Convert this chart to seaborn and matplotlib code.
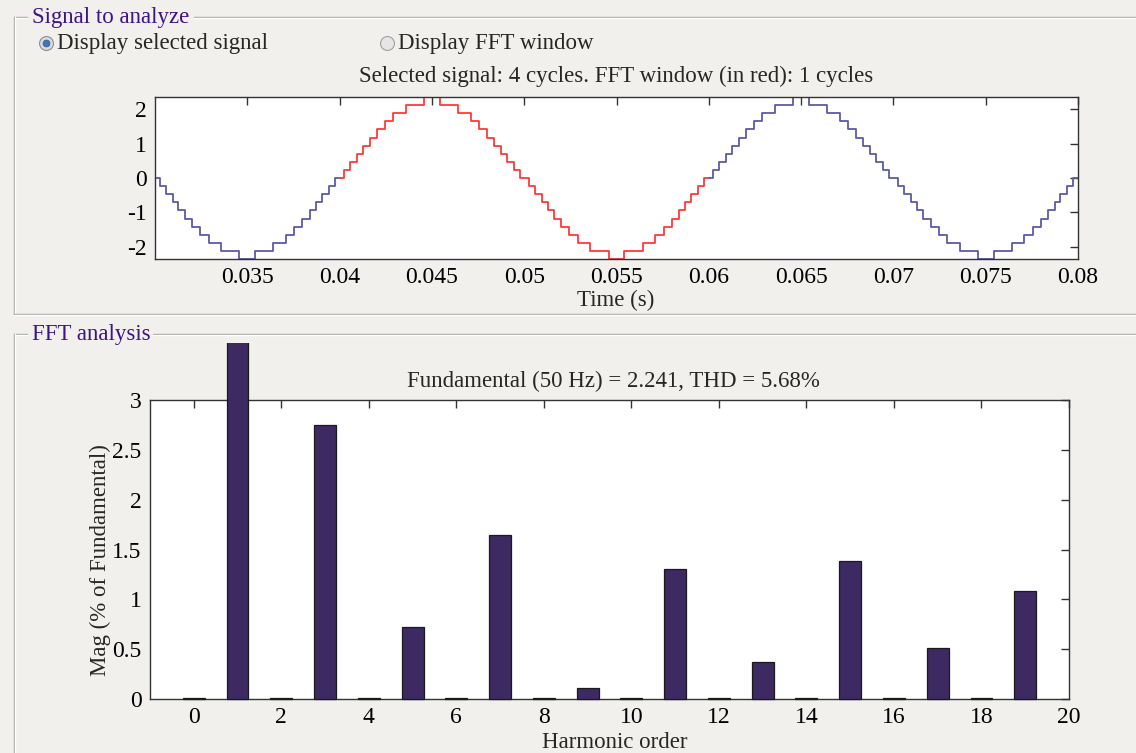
import numpy as np
import pandas as pd
import matplotlib
matplotlib.use("Agg")
import matplotlib.pyplot as plt
import seaborn as sns
from matplotlib.lines import Line2D
from matplotlib.transforms import Bbox, TransformedBbox

# --- signal (staircase) ---
# time in ms where each level starts, and the level index (1 index = quant_step)
step_t_ms = [
    30.00, 30.25, 30.57, 30.95, 31.27, 31.63, 32.02, 32.45, 32.90, 33.59, 34.57,
    35.43, 36.41, 37.10, 37.55, 37.98, 38.37, 38.73, 39.05, 39.43, 39.75,
    40.25, 40.57, 40.95, 41.27, 41.63, 42.02, 42.45, 42.90, 43.59, 44.57,
    45.43, 46.41, 47.10, 47.55, 47.98, 48.37, 48.73, 49.05, 49.43, 49.75,
    50.25, 50.57, 50.95, 51.27, 51.63, 52.02, 52.45, 52.90, 53.59, 54.57,
    55.43, 56.41, 57.10, 57.55, 57.98, 58.37, 58.73, 59.05, 59.43, 59.75,
    60.25, 60.57, 60.95, 61.27, 61.63, 62.02, 62.45, 62.90, 63.59, 64.57,
    65.43, 66.41, 67.10, 67.55, 67.98, 68.37, 68.73, 69.05, 69.43, 69.75,
    70.25, 70.57, 70.95, 71.27, 71.63, 72.02, 72.45, 72.90, 73.59, 74.57,
    75.43, 76.41, 77.10, 77.55, 77.98, 78.37, 78.73, 79.05, 79.43, 79.75,
]
level_code = [
    0, -1, -2, -3, -4, -5, -6, -7, -8, -9, -10,
    -9, -8, -7, -6, -5, -4, -3, -2, -1, 0,
    1, 2, 3, 4, 5, 6, 7, 8, 9, 10,
    9, 8, 7, 6, 5, 4, 3, 2, 1, 0,
    -1, -2, -3, -4, -5, -6, -7, -8, -9, -10,
    -9, -8, -7, -6, -5, -4, -3, -2, -1, 0,
    1, 2, 3, 4, 5, 6, 7, 8, 9, 10,
    9, 8, 7, 6, 5, 4, 3, 2, 1, 0,
    -1, -2, -3, -4, -5, -6, -7, -8, -9, -10,
    -9, -8, -7, -6, -5, -4, -3, -2, -1, 0,
]
quant_step = 0.236
t_end_ms = 80.0
fft_window_ms = (40.0, 60.0)

# --- FFT bars (% of fundamental) ---
harmonic = list(range(20))
mag_pct = [0.01, 100, 0.01, 2.75, 0.01, 0.72, 0.01, 1.65, 0.01, 0.11,
           0.01, 1.30, 0.01, 0.37, 0.01, 1.38, 0.01, 0.51, 0.01, 1.08]

time_ticks = [0.035, 0.04, 0.045, 0.05, 0.055, 0.06, 0.065, 0.07, 0.075, 0.08]
sig_yticks = [-2, -1, 0, 1, 2]
harm_ticks = list(range(0, 21, 2))
mag_ticks = [0, 0.5, 1, 1.5, 2, 2.5, 3]

BG = "#f2f0ed"
PURPLE = "#3b1486"
BLUE = "#5a5aa6"
RED = "#ff3a3a"
BAR = "#3d2a63"
W, H = 1136, 753
FS = 16.5

sns.set_theme(style="white")
plt.rcParams["font.family"] = ["Liberation Serif", "DejaVu Serif"]
plt.rcParams["axes.unicode_minus"] = False

fig = plt.figure(figsize=(W / 100, H / 100), dpi=100, facecolor=BG)


def fx(x):
    return x / W


def fy(y):
    return 1 - y / H


def px_axes(l, t, r, b):
    return fig.add_axes([fx(l), fy(b), (r - l) / W, (b - t) / H])


def style_axes(ax):
    ax.set_facecolor("white")
    for s in ax.spines.values():
        s.set_color("#333333")
        s.set_linewidth(1.0)
    ax.tick_params(direction="in", length=6, width=1, top=True, right=True,
                   colors="#333333", labelcolor="black", labelsize=17, pad=6)
    ax.set_xlabel("")
    ax.set_ylabel("")


# ---------- panel frames ----------
def hline(x0, x1, y):
    fig.add_artist(Line2D([fx(x0), fx(x1)], [fy(y), fy(y)], color="#a8a6a3", lw=1.0,
                          transform=fig.transFigure))
    fig.add_artist(Line2D([fx(x0), fx(x1)], [fy(y + 1), fy(y + 1)], color="white", lw=1.0,
                          transform=fig.transFigure))


def vline(x, y0, y1):
    fig.add_artist(Line2D([fx(x), fx(x)], [fy(y0), fy(y1)], color="#a8a6a3", lw=1.0,
                          transform=fig.transFigure))
    fig.add_artist(Line2D([fx(x + 1), fx(x + 1)], [fy(y0), fy(y1)], color="white", lw=1.0,
                          transform=fig.transFigure))


hline(14, 27, 17)
hline(194, W, 17)
vline(14, 17, 314)
hline(14, W, 314)
hline(14, 27, 334)
hline(153, W, 334)
vline(14, 334, H)

fig.text(fx(32), fy(17), "Signal to analyze", color=PURPLE, fontsize=FS, va="center", ha="left")
fig.text(fx(32), fy(334), "FFT analysis", color=PURPLE, fontsize=FS, va="center", ha="left")

# radio buttons
fig.add_artist(Line2D([fx(46)], [fy(43)], marker="o", markersize=10, markerfacecolor="#d9dde3",
                      markeredgecolor="#8c8c8c", markeredgewidth=0.8, transform=fig.transFigure))
fig.add_artist(Line2D([fx(46)], [fy(43)], marker="o", markersize=5, markerfacecolor="#3f76b8",
                      markeredgecolor="#2d5a90", markeredgewidth=0.5, transform=fig.transFigure))
fig.add_artist(Line2D([fx(387)], [fy(43)], marker="o", markersize=10, markerfacecolor="#e6e6e6",
                      markeredgecolor="#a0a0a0", markeredgewidth=0.8, transform=fig.transFigure))
fig.text(fx(57), fy(43), "Display selected signal", fontsize=FS, va="center", ha="left")
fig.text(fx(398), fy(43), "Display FFT window", fontsize=FS, va="center", ha="left")

# ---------- signal plot ----------
ax1 = px_axes(155, 97, 1078, 259)
t = np.array(step_t_ms) / 1000.0
v = np.array(level_code) * quant_step


def segment(a, b):
    i0 = np.searchsorted(t, a, side="right") - 1
    i1 = np.searchsorted(t, b, side="left")
    ts = np.r_[a, t[i0 + 1:i1], b]
    vs = np.r_[v[i0], v[i0 + 1:i1], v[i1 - 1]]
    return ts, vs


w0, w1 = fft_window_ms[0] / 1000, fft_window_ms[1] / 1000
for a, b, c in [(t[0], w0, BLUE), (w0, w1, RED), (w1, t_end_ms / 1000, BLUE)]:
    ts, vs = segment(a, b)
    sns.lineplot(x=ts, y=vs, ax=ax1, color=c, lw=1.3, drawstyle="steps-post",
                 estimator=None, sort=False)

ax1.set_xlim(t[0], t_end_ms / 1000)
ax1.set_ylim(-10 * quant_step, 10 * quant_step)
style_axes(ax1)
ax1.set_xticks(time_ticks)
ax1.set_xticklabels([f"{x:g}" for x in time_ticks])
ax1.set_yticks(sig_yticks)
ax1.set_yticklabels([str(y) for y in sig_yticks])

fig.text(fx(616), fy(76), "Selected signal: 4 cycles. FFT window (in red): 1 cycles",
         fontsize=FS, ha="center", va="center")
fig.text(fx(616), fy(300), "Time (s)", fontsize=FS, ha="center", va="center")

# ---------- FFT bars ----------
ax2 = px_axes(150, 400, 1069, 699)
df = pd.DataFrame({"harmonic": harmonic, "mag": mag_pct})
sns.barplot(data=df, x="harmonic", y="mag", ax=ax2, native_scale=True, width=0.5,
            color=BAR, saturation=1, edgecolor="#1a1a1a", linewidth=0.9, errorbar=None)

clip = TransformedBbox(Bbox.from_extents(fx(150), fy(701), fx(1069), fy(343)), fig.transFigure)
for p in ax2.patches:
    p.set_clip_box(clip)
    p.set_zorder(3)

ax2.set_xlim(-1, 20)
ax2.set_ylim(0, 3)
style_axes(ax2)
ax2.set_xticks(harm_ticks)
ax2.set_xticklabels([str(h) for h in harm_ticks])
ax2.set_yticks(mag_ticks)
ax2.set_yticklabels([f"{m:g}" for m in mag_ticks])

fig.text(fx(613), fy(381), "Fundamental (50 Hz) = 2.241, THD = 5.68%", fontsize=FS,
         ha="center", va="center")
fig.text(fx(100), fy(560), "Mag (% of Fundamental)", fontsize=FS, ha="center", va="center",
         rotation=90)
fig.text(fx(615), fy(743), "Harmonic order", fontsize=FS, ha="center", va="center")

fig.savefig("out.png", dpi=100, facecolor=BG)
